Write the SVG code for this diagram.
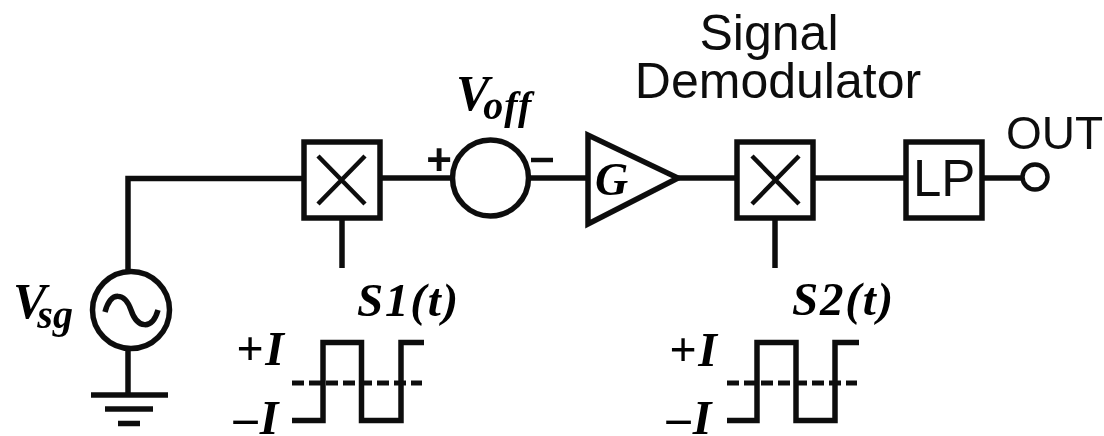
<svg xmlns="http://www.w3.org/2000/svg" width="1104" height="436" viewBox="0 0 1104 436">
<style>
.l{fill:none;stroke:#111;stroke-width:5.500}
.t{stroke-width:4.500}
.d{stroke-dasharray:12 5;stroke-width:5}
.s{font-family:"Liberation Sans",Arial,sans-serif;fill:#111}
.m{font-family:"Liberation Serif","Times New Roman",serif;font-style:italic;font-weight:bold;fill:#000}
.w{letter-spacing:1.800px}
.u{font-size:40px}
</style>
<defs><filter id="b" x="0" y="0" width="100%" height="100%" filterUnits="objectBoundingBox"><feGaussianBlur stdDeviation="0.6"/></filter></defs>
<rect width="1104" height="436" fill="#fff"/>
<g filter="url(#b)">
<rect width="1104" height="436" fill="#fff"/>
<g id="connectors" class="l">
<path d="M128 271V178.500H303"/>
<path d="M128 349V394"/>
<path d="M380 178H452"/>
<path d="M529 178H588"/>
<path d="M678 178H737"/>
<path d="M814 178H905"/>
<path d="M983 178H1022"/>
<path d="M342 218V268"/>
<path d="M775 218V268"/>
</g>
<g id="vsg">
<circle class="l" cx="131" cy="310" r="38.500"/>
<path class="l" d="M105 312C111 290 125 293 131 310C137 328 152 331 158 310"/>
<text class="m" x="13" y="318" font-size="50">V<tspan class="u" dx="-9" dy="10">sg</tspan></text>
</g>
<g id="ground" class="l">
<path d="M91 395H168M105 409H153M118 423.500H140"/>
</g>
<g id="mixer1" class="l">
<rect x="304" y="142" width="76" height="76"/>
<path class="t" d="M318 156L365 204M365 156L318 204"/>
</g>
<g id="voff">
<circle class="l" cx="490.500" cy="178" r="38"/>
<text class="s" x="439" y="175" font-size="44" font-weight="bold" text-anchor="middle">+</text>
<path class="l t" d="M531 160H553"/>
<text class="m" x="456" y="110" font-size="50">V<tspan class="u" dx="-6" dy="9" style="letter-spacing:1px">off</tspan></text>
</g>
<g id="amp">
<path class="l" d="M588 135V224L678 178Z"/>
<text class="m" x="595" y="195" font-size="46">G</text>
</g>
<g id="mixer2" class="l">
<rect x="737" y="142" width="76" height="76"/>
<path class="t" d="M752 156L799 204M799 156L752 204"/>
</g>
<g id="lp">
<rect class="l" x="906" y="142" width="76" height="76"/>
<text class="s" x="913" y="196" font-size="51">LP</text>
</g>
<g id="out">
<circle class="l t" cx="1035" cy="177" r="12.500"/>
<text class="s" x="1006" y="149" font-size="46">OUT</text>
</g>
<g id="title">
<text class="s" font-size="50" text-anchor="middle"><tspan x="769" y="50">Signal</tspan><tspan x="778" y="98">Demodulator</tspan></text>
</g>
<g id="s1">
<text class="m w" x="357" y="316" font-size="47">S1(t)</text>
<text class="m w" x="236" y="365" font-size="48">+I</text>
<text class="m w" x="234" y="434" font-size="48">–I</text>
<path class="l" d="M292 420.500H323V342.500H361.500V420.500H401V342.500H424"/>
<path class="l d" d="M292 383H422"/>
</g>
<g id="s2">
<text class="m w" x="792" y="315" font-size="47">S2(t)</text>
<text class="m w" x="669" y="366" font-size="48">+I</text>
<text class="m w" x="667" y="434" font-size="48">–I</text>
<path class="l" d="M727 420.500H757V342.500H796V420.500H835V342.500H859"/>
<path class="l d" d="M727 383H857"/>
</g>
</g>
</svg>
